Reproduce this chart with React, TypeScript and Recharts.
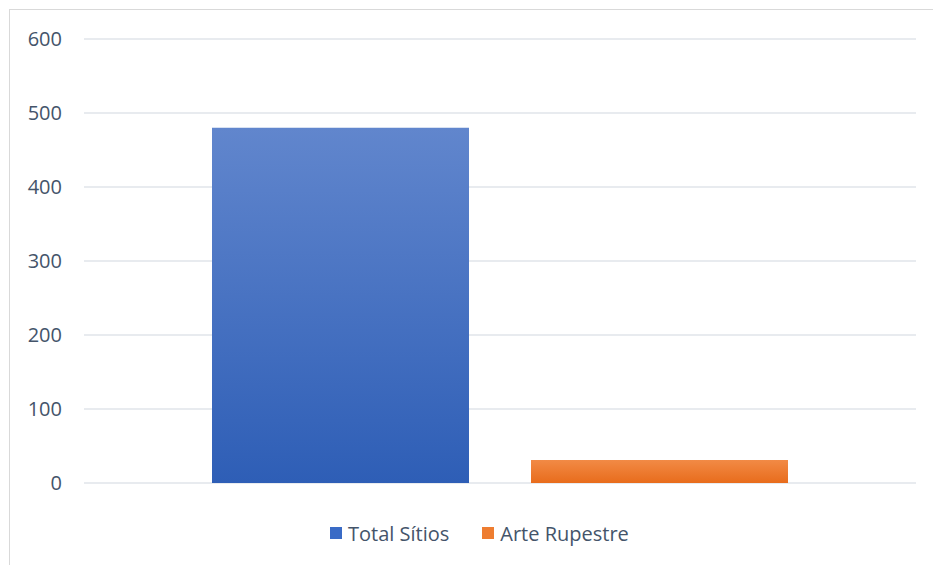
import React from "react";
import { BarChart, Bar, XAxis, YAxis, CartesianGrid } from "recharts";

const categories = [""];
const totalSitios = [480];
const arteRupestre = [31];
const yTicks = [0, 100, 200, 300, 400, 500, 600];
const seriesNames = ["Total Sítios", "Arte Rupestre"];

const data = categories.map((c, i) => ({
  name: c,
  total: totalSitios[i],
  arte: arteRupestre[i],
}));

const textColor = "#44546a";
const font = "'Open Sans', sans-serif";

export default function App() {
  return (
    <div style={{ position: "absolute", left: 0, top: 0, width: 933, height: 565, background: "#fff", overflow: "hidden" }}>
      <div
        style={{
          position: "absolute",
          left: 9,
          top: 9,
          width: 940,
          height: 580,
          border: "1.5px solid #d9d9d9",
          boxSizing: "border-box",
        }}
      />
      <div style={{ position: "absolute", left: 0, top: 0 }}>
        <BarChart
          width={933}
          height={565}
          data={data}
          margin={{ top: 39, right: 17, bottom: 82, left: 0 }}
          barCategoryGap={128}
          barGap={62}
        >
          <defs>
            <linearGradient id="gBlue" x1="0" y1="0" x2="0" y2="1">
              <stop offset="0%" stopColor="#6186cd" />
              <stop offset="100%" stopColor="#2e5eb6" />
            </linearGradient>
            <linearGradient id="gOrange" x1="0" y1="0" x2="0" y2="1">
              <stop offset="0%" stopColor="#f28a45" />
              <stop offset="100%" stopColor="#e86c1c" />
            </linearGradient>
          </defs>
          <CartesianGrid horizontal vertical={false} stroke="#e1e5ea" strokeWidth={1.5} />
          <XAxis dataKey="name" hide />
          <YAxis
            width={84}
            domain={[0, 600]}
            ticks={yTicks}
            axisLine={false}
            tickLine={false}
            tickMargin={16}
            tick={{ fill: textColor, fontSize: 20, fontFamily: font }}
          />
          <Bar dataKey="total" name={seriesNames[0]} fill="url(#gBlue)" isAnimationActive={false} />
          <Bar dataKey="arte" name={seriesNames[1]} fill="url(#gOrange)" isAnimationActive={false} />
        </BarChart>
      </div>
      <div
        style={{
          position: "absolute",
          top: 519,
          left: 330,
          display: "flex",
          alignItems: "center",
          fontFamily: font,
          fontSize: 20,
          color: textColor,
          whiteSpace: "nowrap",
          height: 28,
        }}
      >
        <span style={{ display: "inline-block", width: 12, height: 12, background: "#3a6bc6", marginRight: 6 }} />
        <span style={{ marginRight: 33 }}>{seriesNames[0]}</span>
        <span style={{ display: "inline-block", width: 12, height: 12, background: "#ee7d31", marginRight: 6 }} />
        <span>{seriesNames[1]}</span>
      </div>
    </div>
  );
}
